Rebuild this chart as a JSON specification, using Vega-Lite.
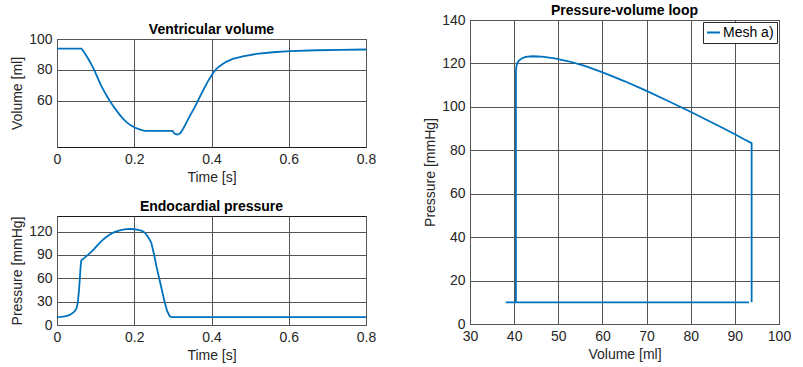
{
  "$schema": "https://vega.github.io/schema/vega-lite/v6.json",
  "padding": {"left": 10, "top": 3, "right": 5, "bottom": 3},
  "background": "white",
  "data": {"values": [
    {"t": 0.000, "volume": 93.8, "pressure": 10.0},
    {"t": 0.010, "volume": 93.8, "pressure": 10.4},
    {"t": 0.020, "volume": 93.8, "pressure": 11.2},
    {"t": 0.030, "volume": 93.8, "pressure": 12.4},
    {"t": 0.037, "volume": 93.8, "pressure": 14.2},
    {"t": 0.044, "volume": 93.8, "pressure": 16.8},
    {"t": 0.050, "volume": 93.8, "pressure": 20.6},
    {"t": 0.054, "volume": 93.8, "pressure": 29.0},
    {"t": 0.057, "volume": 93.8, "pressure": 45.0},
    {"t": 0.059, "volume": 93.8, "pressure": 59.0},
    {"t": 0.061, "volume": 93.8, "pressure": 74.0},
    {"t": 0.063, "volume": 93.8, "pressure": 83.3},
    {"t": 0.068, "volume": 92.2, "pressure": 85.0},
    {"t": 0.074, "volume": 89.9, "pressure": 87.5},
    {"t": 0.080, "volume": 87.5, "pressure": 90.0},
    {"t": 0.088, "volume": 84.0, "pressure": 93.6},
    {"t": 0.096, "volume": 80.2, "pressure": 97.5},
    {"t": 0.105, "volume": 75.0, "pressure": 102.6},
    {"t": 0.115, "volume": 69.5, "pressure": 107.8},
    {"t": 0.125, "volume": 64.8, "pressure": 112.0},
    {"t": 0.136, "volume": 60.2, "pressure": 115.8},
    {"t": 0.147, "volume": 56.0, "pressure": 118.9},
    {"t": 0.158, "volume": 52.3, "pressure": 121.0},
    {"t": 0.168, "volume": 49.2, "pressure": 122.3},
    {"t": 0.179, "volume": 46.3, "pressure": 123.1},
    {"t": 0.190, "volume": 44.2, "pressure": 123.3},
    {"t": 0.201, "volume": 42.6, "pressure": 123.0},
    {"t": 0.210, "volume": 41.7, "pressure": 122.3},
    {"t": 0.218, "volume": 41.1, "pressure": 121.3},
    {"t": 0.223, "volume": 40.7, "pressure": 120.2},
    {"t": 0.227, "volume": 40.5, "pressure": 118.5},
    {"t": 0.231, "volume": 40.4, "pressure": 116.5},
    {"t": 0.237, "volume": 40.4, "pressure": 112.0},
    {"t": 0.244, "volume": 40.4, "pressure": 106.0},
    {"t": 0.252, "volume": 40.4, "pressure": 89.0},
    {"t": 0.258, "volume": 40.4, "pressure": 74.0},
    {"t": 0.265, "volume": 40.4, "pressure": 59.0},
    {"t": 0.272, "volume": 40.4, "pressure": 44.0},
    {"t": 0.279, "volume": 40.4, "pressure": 29.0},
    {"t": 0.285, "volume": 40.4, "pressure": 18.0},
    {"t": 0.292, "volume": 40.4, "pressure": 11.2},
    {"t": 0.297, "volume": 40.4, "pressure": 10.2},
    {"t": 0.300, "volume": 40.3, "pressure": 10.0},
    {"t": 0.303, "volume": 39.0, "pressure": 10.0},
    {"t": 0.307, "volume": 38.3, "pressure": 10.0},
    {"t": 0.311, "volume": 38.1, "pressure": 10.0},
    {"t": 0.316, "volume": 38.4, "pressure": 10.0},
    {"t": 0.320, "volume": 39.2, "pressure": 10.0},
    {"t": 0.327, "volume": 42.0, "pressure": 10.0},
    {"t": 0.335, "volume": 45.8, "pressure": 10.0},
    {"t": 0.345, "volume": 50.7, "pressure": 10.0},
    {"t": 0.356, "volume": 55.5, "pressure": 10.0},
    {"t": 0.365, "volume": 60.0, "pressure": 10.0},
    {"t": 0.373, "volume": 64.1, "pressure": 10.0},
    {"t": 0.382, "volume": 68.5, "pressure": 10.0},
    {"t": 0.391, "volume": 72.7, "pressure": 10.0},
    {"t": 0.398, "volume": 75.5, "pressure": 10.0},
    {"t": 0.404, "volume": 78.0, "pressure": 10.0},
    {"t": 0.412, "volume": 80.5, "pressure": 10.0},
    {"t": 0.421, "volume": 82.4, "pressure": 10.0},
    {"t": 0.430, "volume": 84.0, "pressure": 10.0},
    {"t": 0.438, "volume": 85.2, "pressure": 10.0},
    {"t": 0.455, "volume": 87.1, "pressure": 10.0},
    {"t": 0.481, "volume": 88.8, "pressure": 10.0},
    {"t": 0.516, "volume": 90.3, "pressure": 10.0},
    {"t": 0.559, "volume": 91.4, "pressure": 10.0},
    {"t": 0.602, "volume": 92.1, "pressure": 10.0},
    {"t": 0.671, "volume": 92.7, "pressure": 10.0},
    {"t": 0.731, "volume": 93.0, "pressure": 10.0},
    {"t": 0.800, "volume": 93.2, "pressure": 10.0}
  ]},
  "config": {
    "font": "Liberation Sans",
    "view": {"stroke": "#1a1a1a", "strokeWidth": 1},
    "axis": {
      "grid": true, "gridColor": "#555555", "gridOpacity": 1, "gridWidth": 1,
      "domain": false, "ticks": false,
      "labelFontSize": 14, "labelColor": "#262626", "labelPadding": 5,
      "labelFlush": false, "labelOverlap": false,
      "titleFontSize": 14, "titleFontWeight": "normal", "titleColor": "#262626", "titlePadding": 4
    },
    "title": {"fontSize": 14, "fontWeight": "bold", "color": "#000000", "offset": 5}
  },
  "resolve": {"scale": {"color": "independent"}, "legend": {"color": "independent"}},
  "spacing": 46,
  "hconcat": [
    {
      "spacing": 14,
      "vconcat": [
        {
          "spacing": 0,
          "vconcat": [
            {
              "data": {"values": []},
              "width": 309, "height": 2,
              "view": {"stroke": null},
              "mark": {"type": "point", "opacity": 0},
              "encoding": {}
            },
            {
              "title": {"text": "Ventricular volume", "offset": -5},
              "width": 309, "height": 108,
              "mark": {"type": "line", "color": "#0072BD", "strokeWidth": 1.8},
              "encoding": {
                "x": {"field": "t", "type": "quantitative", "title": "Time [s]",
                      "scale": {"domain": [0, 0.8], "nice": false},
                      "axis": {"values": [0, 0.2, 0.4, 0.6, 0.8], "format": "~g"}},
                "y": {"field": "volume", "type": "quantitative", "title": "Volume [ml]",
                      "scale": {"domain": [30, 100], "nice": false, "zero": false},
                      "axis": {"values": [60, 80, 100]}}
              }
            }
          ]
        },
        {
          "title": {"text": "Endocardial pressure", "offset": 2},
          "width": 309, "height": 109,
          "mark": {"type": "line", "color": "#0072BD", "strokeWidth": 1.8},
          "encoding": {
            "x": {"field": "t", "type": "quantitative", "title": "Time [s]",
                  "scale": {"domain": [0, 0.8], "nice": false},
                  "axis": {"values": [0, 0.2, 0.4, 0.6, 0.8], "format": "~g"}},
            "y": {"field": "pressure", "type": "quantitative", "title": "Pressure [mmHg]",
                  "scale": {"domain": [0, 140], "nice": false},
                  "axis": {"values": [0, 30, 60, 90, 120]}}
          }
        }
      ]
    },
    {
      "title": {"text": "Pressure-volume loop", "offset": -5},
      "width": 309, "height": 304,
      "mark": {"type": "line", "strokeWidth": 1.8},
      "encoding": {
        "x": {"field": "volume", "type": "quantitative", "title": "Volume [ml]",
              "scale": {"domain": [30, 100], "nice": false, "zero": false},
              "axis": {"values": [30, 40, 50, 60, 70, 80, 90, 100]}},
        "y": {"field": "pressure", "type": "quantitative", "title": "Pressure [mmHg]",
              "scale": {"domain": [0, 140], "nice": false},
              "axis": {"values": [0, 20, 40, 60, 80, 100, 120, 140]}},
        "order": {"field": "t", "type": "quantitative"},
        "color": {"datum": "Mesh a)", "type": "nominal",
                  "scale": {"range": ["#0072BD"]},
                  "legend": {"title": null, "orient": "top-right", "offset": 2,
                             "strokeColor": "#262626", "fillColor": "white", "padding": 3,
                             "symbolType": "stroke", "symbolSize": 169, "symbolStrokeWidth": 2,
                             "labelFontSize": 14, "labelColor": "#000000", "labelOffset": 2}}
      }
    }
  ]
}
